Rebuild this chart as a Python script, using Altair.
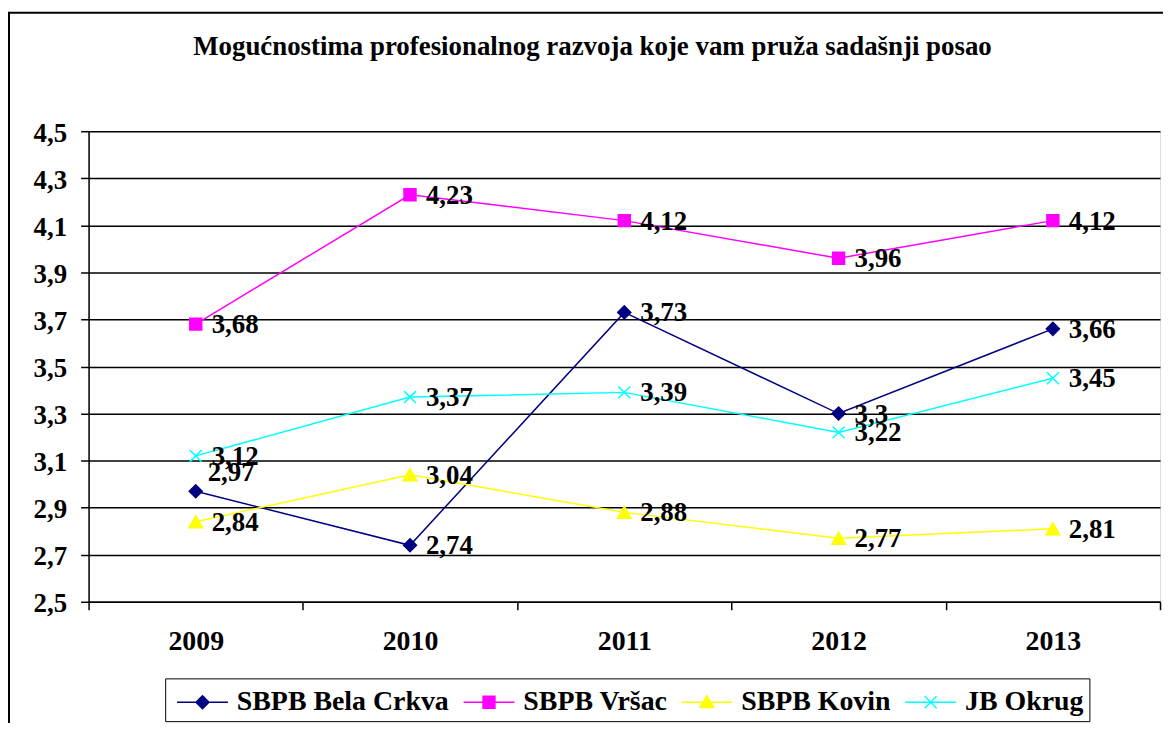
import altair as alt
import pandas as pd

years = ["2009", "2010", "2011", "2012", "2013"]
series_names = ["SBPB Bela Crkva", "SBPB Vršac", "SBPB Kovin", "JB Okrug"]
bela_crkva = [2.97, 2.74, 3.73, 3.3, 3.66]
vrsac = [3.68, 4.23, 4.12, 3.96, 4.12]
kovin = [2.84, 3.04, 2.88, 2.77, 2.81]
jb_okrug = [3.12, 3.37, 3.39, 3.22, 3.45]
y_ticks = [2.5, 2.7, 2.9, 3.1, 3.3, 3.5, 3.7, 3.9, 4.1, 4.3, 4.5]
colors = ["#000080", "#FF00FF", "#FFFF00", "#00FFFF"]
title_text = "Mogućnostima profesionalnog razvoja koje vam pruža sadašnji posao"

rows = []
for name, vals in zip(series_names, [bela_crkva, vrsac, kovin, jb_okrug]):
    for yr, v in zip(years, vals):
        rows.append({"year": yr, "value": v, "series": name})
df = pd.DataFrame(rows)

FONT = "Liberation Serif, Times New Roman, Tinos, serif"

point_shapes = ["diamond", "square", "triangle-up", "M-1,-1L1,1M-1,1L1,-1"]
point_sizes = [170, 144, 190, 144]

legend_paths = [
    "M-0.67,0L2.17,0M0.75,-0.36L1.11,0L0.75,0.36L0.39,0Z",
    "M-0.67,0L2.17,0M0.42,-0.33L1.08,-0.33L1.08,0.33L0.42,0.33Z",
    "M-0.67,0L2.17,0M0.75,-0.36L1.14,0.3L0.36,0.3Z",
    "M-0.67,0L2.17,0M0.42,-0.33L1.08,0.33M0.42,0.33L1.08,-0.33",
]
shape_expr = ""
for n, p in zip(series_names[:-1], legend_paths[:-1]):
    shape_expr += f"datum.value === '{n}' ? '{p}' : "
shape_expr += f"'{legend_paths[-1]}'"

x_enc = alt.X(
    "year:N",
    sort=years,
    scale=alt.Scale(paddingInner=0, paddingOuter=0),
    axis=alt.Axis(
        title=None, labelAngle=0, tickBand="extent", tickSize=8,
        tickColor="#000", tickWidth=1.5, domainColor="#000", domainWidth=1.5,
        labelFont=FONT, labelFontWeight="bold", labelFontSize=28,
        labelColor="#000", labelBaseline="alphabetic", labelPadding=40, grid=False,
    ),
)
y_enc = alt.Y(
    "value:Q",
    scale=alt.Scale(domain=[2.5, 4.5], nice=False, zero=False),
    axis=alt.Axis(
        title=None, values=y_ticks, tickSize=8, tickColor="#000", tickWidth=1.5,
        domainColor="#000", domainWidth=1.5, grid=True, gridColor="#000",
        gridWidth=1.5, labelFont=FONT, labelFontWeight="bold", labelFontSize=27,
        labelColor="#000", labelPadding=14, labelOffset=2,
        labelExpr="replace(format(datum.value, '.1f'), '.', ',')",
    ),
)

color_scale = alt.Scale(domain=series_names, range=colors)

frame = alt.Chart(pd.DataFrame({"a": [0]})).mark_rect(
    fill=None, stroke="#000", strokeWidth=2
).encode(
    x=alt.value(-80), x2=alt.value(1120), y=alt.value(-119), y2=alt.value(700)
)

lines = alt.Chart(df).mark_line(strokeWidth=1.5).encode(
    x=x_enc,
    y=y_enc,
    color=alt.Color(
        "series:N", scale=color_scale, sort=series_names,
        legend=alt.Legend(
            title=None, orient="none", legendX=77, legendY=550,
            direction="horizontal", columns=4,
            strokeColor="#000", fillColor="#fff", padding=5,
            symbolSize=1296, labelOffset=29, columnPadding=7,
            labelFont=FONT, labelFontWeight="bold", labelFontSize=28,
            labelColor="#000", labelLimit=500,
            symbolType=alt.ExprRef(expr=shape_expr),
            symbolFillColor=alt.ExprRef(expr="scale('color', datum.value)"),
            symbolStrokeColor=alt.ExprRef(expr="scale('color', datum.value)"),
            symbolStrokeWidth=1.5, symbolOpacity=1,
        ),
    ),
    detail="series:N",
)

point_layers = []
for name, col, shp, sz in zip(series_names, colors, point_shapes, point_sizes):
    point_layers.append(
        alt.Chart(df).transform_filter(alt.datum.series == name).mark_point(
            filled=True, shape=shp, size=sz, fill=col, stroke=col,
            strokeWidth=1.5, opacity=1,
        ).encode(x=x_enc, y=y_enc)
    )

text_base = alt.Chart(df).transform_calculate(
    label="replace(toString(datum.value), '.', ',')"
)
is_special = "datum.series === 'SBPB Bela Crkva' && datum.year === '2009'"
labels_main = text_base.transform_filter("!(" + is_special + ")").mark_text(
    align="left", baseline="middle", dx=16, dy=1, font=FONT, fontWeight="bold",
    fontSize=27, color="#000"
).encode(x=x_enc, y=y_enc, text="label:N")
labels_special = text_base.transform_filter(is_special).mark_text(
    align="left", baseline="middle", dx=12, dy=-18, font=FONT, fontWeight="bold",
    fontSize=27, color="#000"
).encode(x=x_enc, y=y_enc, text="label:N")

chart = alt.layer(frame, lines, *point_layers, labels_main, labels_special).properties(
    width=1077,
    height=473,
    autosize=alt.AutoSizeParams(type="none"),
    padding={"left": 81, "top": 122, "right": 3, "bottom": 120},
    title=alt.TitleParams(
        text=title_text, font=FONT, fontWeight="bold", fontSize=27, color="#000",
        anchor="middle", frame="group", baseline="alphabetic", offset=-70, dx=-32,
    ),
).configure_view(
    fill="#C0C0C0", stroke="#808080", strokeWidth=1.5
).configure(background="#FFFFFF")

chart.save("out.html", embed_options={"renderer": "svg", "actions": False})
